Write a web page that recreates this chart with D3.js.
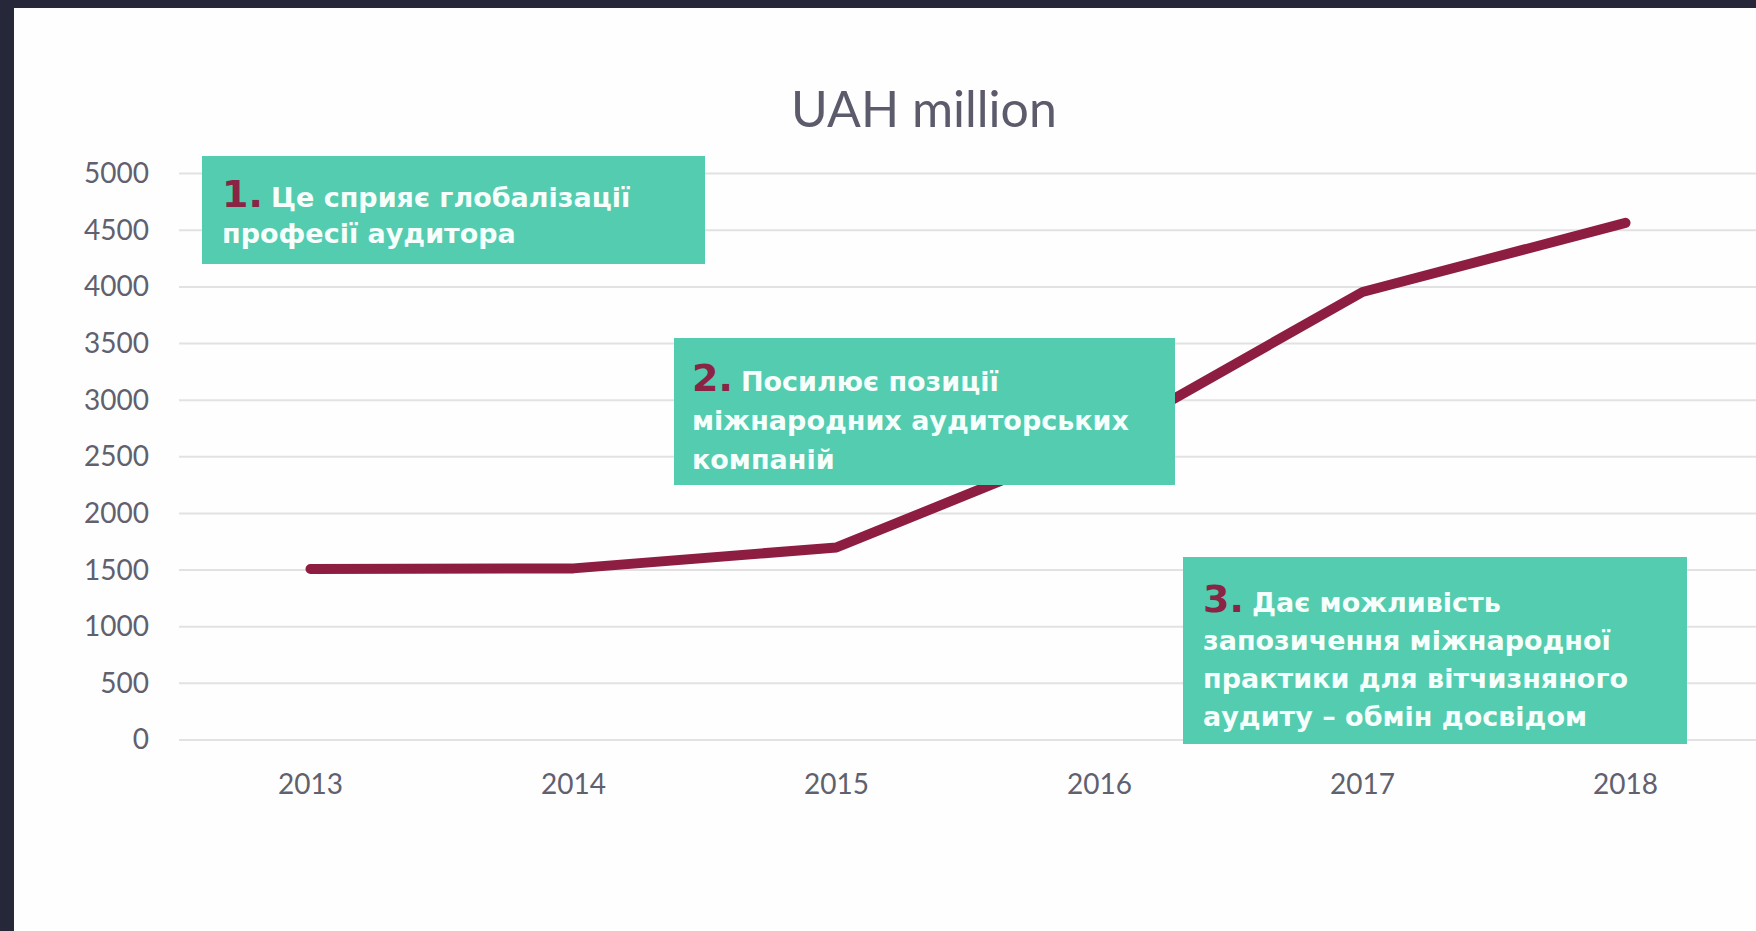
<!DOCTYPE html>
<html>
<head>
<meta charset="utf-8">
<script src="https://cdn.jsdelivr.net/npm/d3@7"></script>
<style>
  html, body { margin: 0; padding: 0; background: #fefefe; }
  #chart { width: 1756px; height: 931px; }
</style>
</head>
<body>
<div id="chart"></div>
<script>
// Chart data
const years = ["2013", "2014", "2015", "2016", "2017", "2018"];
const values = [1510, 1515, 1700, 2640, 3955, 4565];
const yTicks = [0, 500, 1000, 1500, 2000, 2500, 3000, 3500, 4000, 4500, 5000];
const title = "UAH million";

// Callout texts
const noteNumbers = ["1.", "2.", "3."];
const note1 = ["Це сприяє глобалізації", "професії аудитора"];
const note2 = ["Посилює позиції", "міжнародних аудиторських", "компаній"];
const note3 = ["Дає можливість", "запозичення міжнародної", "практики для вітчизняного", "аудиту – обмін досвідом"];

// Canvas
const width = 1756;
const height = 931;
const plot = { left: 179, right: 1757, top: 173.6, bottom: 740 };

const svg = d3.select("#chart")
    .append("svg")
    .attr("width", width)
    .attr("height", height);

// Background + dark frame on top / left
svg.append("rect").attr("width", width).attr("height", height).attr("fill", "#26283a");
svg.append("rect").attr("x", 14).attr("y", 8).attr("width", width - 14).attr("height", height - 8).attr("fill", "#fefefe");

// Scales
const x = d3.scaleBand().domain(years).range([plot.left, plot.right]);
const y = d3.scaleLinear().domain([0, 5000]).range([plot.bottom, plot.top]);
const cx = d => x(d) + x.bandwidth() / 2;

// Gridlines
svg.append("g")
    .selectAll("line")
    .data(yTicks)
    .enter()
    .append("line")
    .attr("x1", plot.left)
    .attr("x2", plot.right)
    .attr("y1", d => y(d))
    .attr("y2", d => y(d))
    .attr("stroke", "#e2e2e4")
    .attr("stroke-width", 2);

// Y axis labels
const yAxis = svg.append("g")
    .attr("transform", `translate(${plot.left - 10},0)`)
    .call(d3.axisLeft(y).tickValues(yTicks).tickFormat(d3.format("d")).tickSize(0).tickPadding(20));
yAxis.select(".domain").remove();
yAxis.selectAll("text")
    .attr("font-family", "Lato, sans-serif")
    .attr("font-size", 28)
    .attr("fill", "#60606e");

// X axis labels
const xAxis = svg.append("g")
    .attr("transform", `translate(0,${plot.bottom})`)
    .call(d3.axisBottom(x).tickSize(0).tickPadding(34));
xAxis.select(".domain").remove();
xAxis.selectAll("text")
    .attr("font-family", "Lato, sans-serif")
    .attr("font-size", 28)
    .attr("fill", "#60606e");

// Title
svg.append("text")
    .attr("x", 924)
    .attr("y", 127)
    .attr("text-anchor", "middle")
    .attr("font-family", "Lato, sans-serif")
    .attr("font-size", 50)
    .attr("fill", "#5b5b6c")
    .text(title);

// Line
const line = d3.line()
    .x((d, i) => cx(years[i]))
    .y(d => y(d));

svg.append("path")
    .datum(values)
    .attr("d", line)
    .attr("fill", "none")
    .attr("stroke", "#8e1d42")
    .attr("stroke-width", 10)
    .attr("stroke-linecap", "round")
    .attr("stroke-linejoin", "round");

// Callout boxes
const boxes = [
    { num: noteNumbers[0], lines: note1, x: 202, y: 156, w: 503, h: 108, tx: 222, ty: 207, lh: 36 },
    { num: noteNumbers[1], lines: note2, x: 674, y: 338, w: 501, h: 147, tx: 692, ty: 391, lh: 39 },
    { num: noteNumbers[2], lines: note3, x: 1183, y: 557, w: 504, h: 187, tx: 1203, ty: 612, lh: 38 }
];

boxes.forEach(b => {
    const g = svg.append("g");
    g.append("rect")
        .attr("x", b.x).attr("y", b.y)
        .attr("width", b.w).attr("height", b.h)
        .attr("fill", "#53ccaf");

    const t = g.append("text")
        .attr("font-family", "'DejaVu Sans', sans-serif")
        .attr("font-weight", "bold")
        .attr("font-size", 27)
        .attr("fill", "#f6fffc");

    b.lines.forEach((ln, i) => {
        const row = t.append("tspan")
            .attr("x", b.tx)
            .attr("y", b.ty + i * b.lh);
        if (i === 0) {
            row.append("tspan")
                .attr("font-size", 38)
                .attr("fill", "#8a2445")
                .text(b.num);
            row.append("tspan").attr("dx", 8).text(ln);
        } else {
            row.text(ln);
        }
    });
});
</script>
</body>
</html>
